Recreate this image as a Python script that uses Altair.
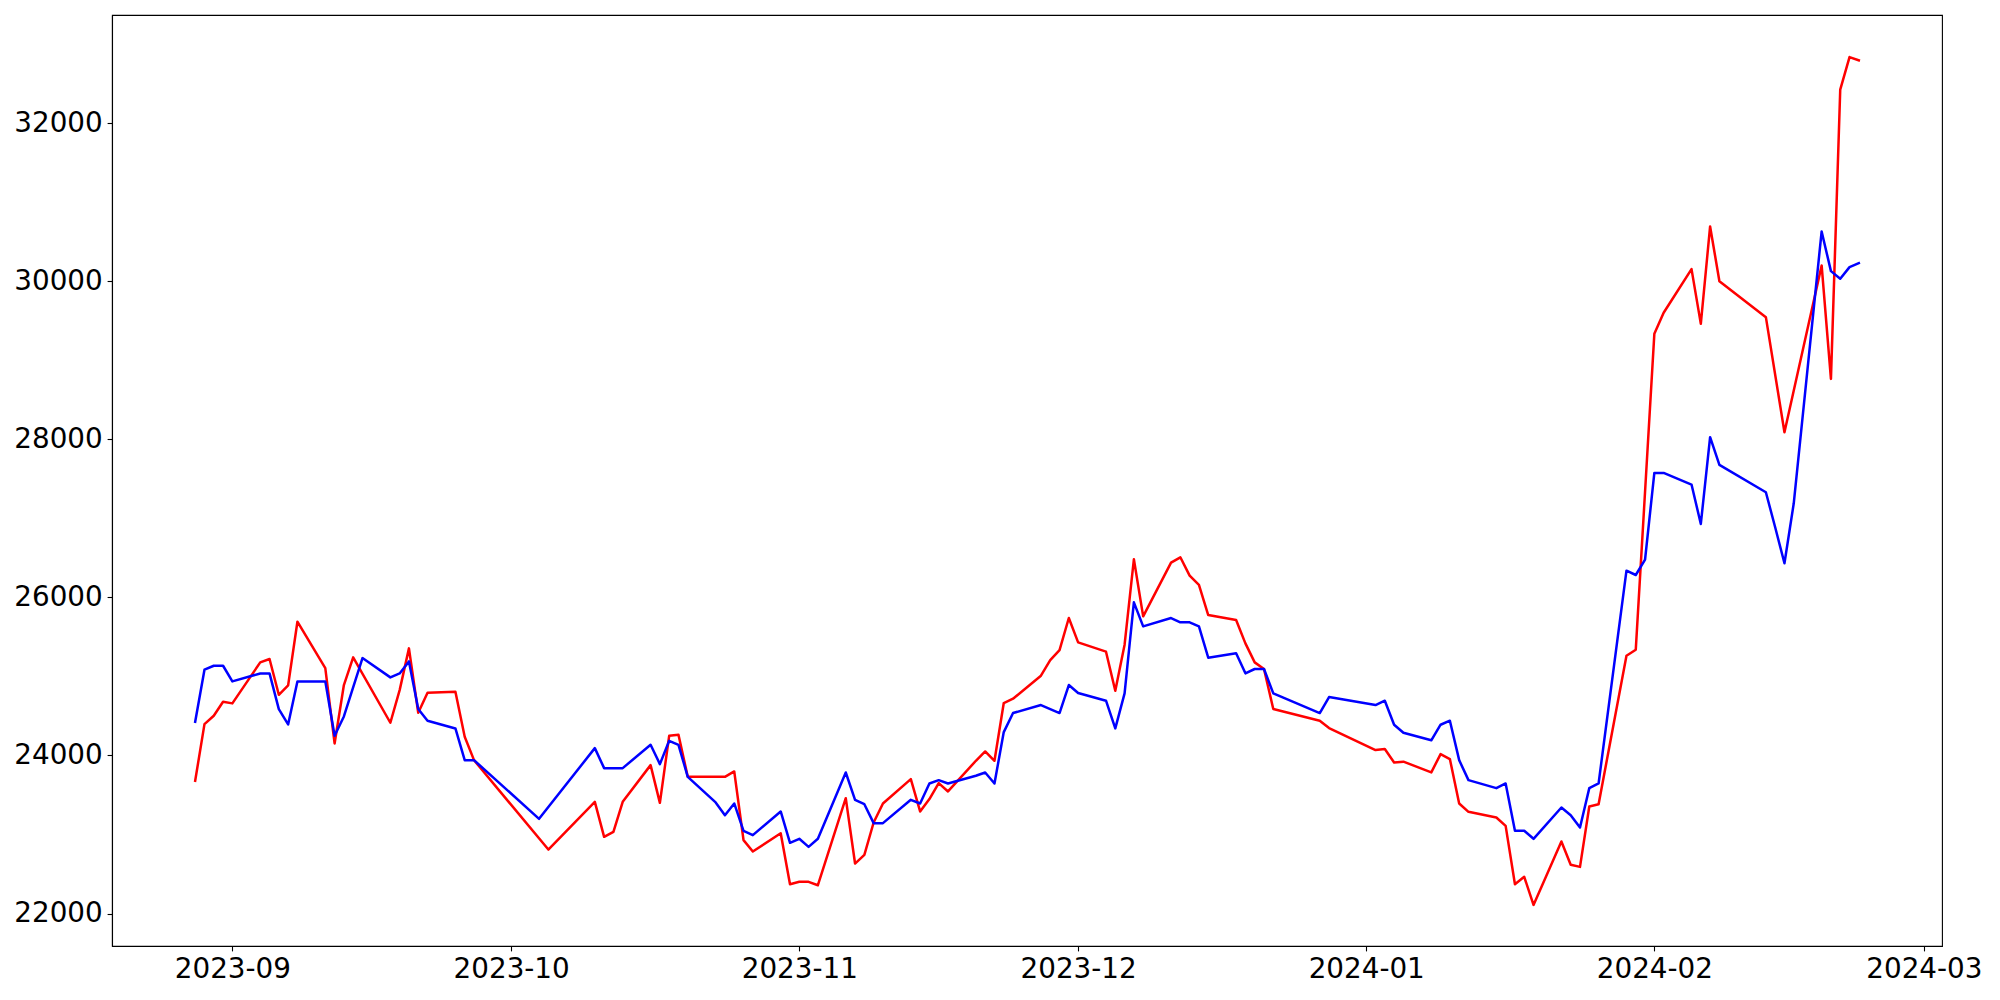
import altair as alt
import pandas as pd

# ---- data ----
dates = [
    "2023-08-28", "2023-08-29", "2023-08-30", "2023-08-31", "2023-09-01",
    "2023-09-04", "2023-09-05", "2023-09-06", "2023-09-07", "2023-09-08",
    "2023-09-11", "2023-09-12", "2023-09-13", "2023-09-14", "2023-09-15",
    "2023-09-18", "2023-09-19", "2023-09-20", "2023-09-21", "2023-09-22",
    "2023-09-25", "2023-09-26", "2023-09-27",
    "2023-10-04", "2023-10-05",
    "2023-10-10", "2023-10-11", "2023-10-12", "2023-10-13",
    "2023-10-16", "2023-10-17", "2023-10-18", "2023-10-19", "2023-10-20",
    "2023-10-23", "2023-10-24", "2023-10-25", "2023-10-26", "2023-10-27",
    "2023-10-30", "2023-10-31", "2023-11-01", "2023-11-02", "2023-11-03",
    "2023-11-06", "2023-11-07", "2023-11-08", "2023-11-09", "2023-11-10",
    "2023-11-13", "2023-11-14", "2023-11-15", "2023-11-16", "2023-11-17",
    "2023-11-20", "2023-11-21", "2023-11-22", "2023-11-23", "2023-11-24",
    "2023-11-27", "2023-11-28", "2023-11-29", "2023-11-30", "2023-12-01",
    "2023-12-04", "2023-12-05", "2023-12-06", "2023-12-07", "2023-12-08",
    "2023-12-11", "2023-12-12", "2023-12-13", "2023-12-14", "2023-12-15",
    "2023-12-18", "2023-12-19", "2023-12-20", "2023-12-21", "2023-12-22",
    "2023-12-27", "2023-12-28",
    "2024-01-02", "2024-01-03", "2024-01-04", "2024-01-05",
    "2024-01-08", "2024-01-09", "2024-01-10", "2024-01-11", "2024-01-12",
    "2024-01-15", "2024-01-16", "2024-01-17", "2024-01-18", "2024-01-19",
    "2024-01-22", "2024-01-23", "2024-01-24", "2024-01-25", "2024-01-26",
    "2024-01-29", "2024-01-30", "2024-01-31", "2024-02-01", "2024-02-02",
    "2024-02-05", "2024-02-06", "2024-02-07", "2024-02-08",
    "2024-02-13", "2024-02-14", "2024-02-15", "2024-02-16",
    "2024-02-19", "2024-02-20", "2024-02-21", "2024-02-22", "2024-02-23",
]

red_values = [
    23680, 24397, 24503, 24680, 24659,
    25178, 25220, 24768, 24887, 25692,
    25106, 24152, 24891, 25241, None,
    24414, 24827, 25355, 24541, 24794,
    24806, 24237, 23941,
    None, 22810,
    23414, 22971, 23034, 23414,
    23878, 23401, 24249, 24262, 23730,
    None, 23730, 23798, 22929, 22785,
    23017, 22372, 22402, 22402, 22359,
    23460, 22633, 22743, 23152, 23393,
    23701, 23292, 23448, 23650, 23545,
    23933, 24051, 23933, 24663, 24718,
    25009, 25207, 25334, 25739, 25431,
    25313, 24819, 25401, 26482, 25760,
    26439, 26507, 26275, 26157, 25777,
    25714, 25418, 25178, 25094, 24587,
    24440, 24347,
    24068, 24081, 23912, 23922,
    23786, 24018, 23955, 23393, 23287,
    23216, 23110, 22372, 22465, 22110,
    22912, 22617, 22591, 23355, 23384,
    25262, 25338, None, 29334, 29600,
    30152, 29460, 30692, 30000,
    29545, None, 28089, None,
    30199, 28764, 32422, 32835, 32793,
]

blue_values = [
    24427, 25085, 25135, 25135, 24937,
    25038, 25038, 24587, 24393, 24937,
    24937, 24249, 24494, None, 25232,
    24988, 25038, 25190, 24587, 24439,
    24342, 23941, 23941,
    23199, None,
    24093, 23840, None, 23840,
    24135, 23891, 24186, 24135, 23730,
    23406, 23245, 23393, 23047, 22992,
    23292, 22895, 22946, 22844, 22946,
    23785, 23439, 23384, 23144, 23144,
    23439, 23393, 23646, 23688, 23646,
    23743, 23785, 23646, 24296, 24537,
    24638, None, 24537, 24891, 24790,
    24693, 24343, 24786, 25937, 25633,
    25739, 25684, 25684, 25633, 25237,
    25292, 25039, 25094, 25094, 24786,
    24537, 24739,
    24638, 24693, 24389, 24288,
    24192, 24389, 24440, 23941, 23688,
    23587, 23646, 23047, 23047, 22946,
    23342, 23245, 23089, 23587, 23646,
    26338, 26283, 26478, 27574, 27574,
    27427, 26929, 28026, 27676,
    27330, 26887, 26431, 27190,
    30629, 30127, 30030, 30178, 30228,
]

month_ticks = ["2023-09-01", "2023-10-01", "2023-11-01", "2023-12-01",
               "2024-01-01", "2024-02-01", "2024-03-01"]
y_ticks = [22000, 24000, 26000, 28000, 30000, 32000]

# ---- chart ----
df = pd.DataFrame({"date": dates, "red": red_values, "blue": blue_values})


def ms(s):
    return int(pd.Timestamp(s, tz="UTC").value // 10**6)


x_domain = [ms("2023-08-19T01:12:00"), ms("2024-03-02T22:48:00")]
y_domain = [21590, 33367]

FONT = "DejaVu Sans"
FS = 27.8
LW = 2.5

x_enc = alt.X(
    "date:T",
    scale=alt.Scale(type="utc", domain=x_domain, nice=False),
    axis=alt.Axis(
        values=[ms(t) for t in month_ticks],
        labelExpr="utcFormat(datum.value, '%Y-%m')",
        title="",
        labelFlush=False,
        labelOverlap=False,
    ),
)


def y_enc(field):
    return alt.Y(
        f"{field}:Q",
        scale=alt.Scale(domain=y_domain, nice=False, zero=False),
        axis=alt.Axis(values=y_ticks, format="d", title=""),
    )


base = alt.Chart(df)

red_line = (
    base.transform_filter("isValid(datum.red) && isFinite(datum.red)")
    .mark_line(color="#ff0000", strokeWidth=LW, strokeJoin="round", strokeCap="square")
    .encode(x=x_enc, y=y_enc("red"))
)

blue_line = (
    base.transform_filter("isValid(datum.blue) && isFinite(datum.blue)")
    .mark_line(color="#0000ff", strokeWidth=LW, strokeJoin="round", strokeCap="square")
    .encode(x=x_enc, y=y_enc("blue"))
)

chart = (
    alt.layer(red_line, blue_line)
    .properties(
        width=1830,
        height=931,
        autosize=alt.AutoSizeParams(type="none"),
        padding={"left": 104, "top": 7, "right": 48, "bottom": 44},
        background="white",
    )
    .configure_view(stroke="black", strokeWidth=1.1)
    .configure_axis(
        grid=False,
        domainColor="black",
        domainWidth=1.1,
        tickColor="black",
        tickWidth=1.1,
        tickSize=4.9,
        labelFont=FONT,
        labelFontSize=FS,
        labelColor="black",
        labelPadding=4.9,
    )
)

chart.save("out.html", embed_options={"renderer": "svg", "actions": False})
